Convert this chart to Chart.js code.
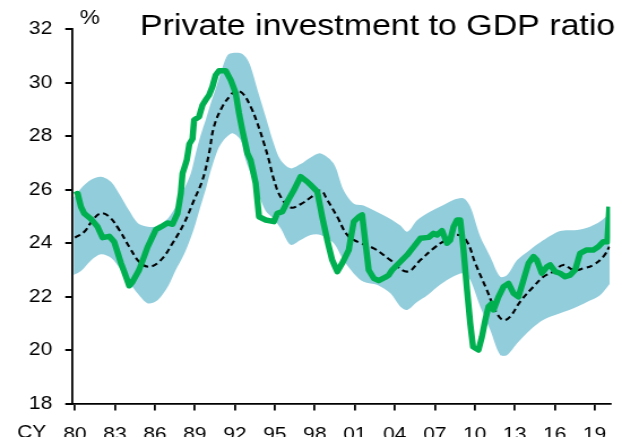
<!DOCTYPE html>
<html>
<head>
<meta charset="utf-8">
<script src="https://cdn.jsdelivr.net/npm/chart.js@4.4.1/dist/chart.umd.min.js"></script>
<style>
  html, body { margin: 0; padding: 0; background: #fff; overflow: hidden; }
  canvas { display: block; }
</style>
</head>
<body>
<!-- drawn 550 wide and shown 622 wide: the reference looks stretched sideways -->
<canvas id="investChart" width="550" height="455" style="width:622px;height:455px"></canvas>
<script>
// x axis ticks (calendar years)
const tickYears = [1980, 1983, 1986, 1989, 1992, 1995, 1998, 2001, 2004, 2007, 2010, 2013, 2016, 2019];
const tickLabels = ['80', '83', '86', '89', '92', '95', '98', '01', '04', '07', '10', '13', '16', '19'];

// actual ratio (green)
const actualYears = [1980.0, 1980.2, 1980.45, 1980.7, 1981.2, 1981.7, 1982.07, 1982.57, 1982.94, 1983.45, 1983.82, 1984.07, 1984.32, 1984.82, 1985.45, 1986.07, 1986.44, 1986.94, 1987.32, 1987.69, 1987.94, 1988.07, 1988.39, 1988.58, 1988.82, 1988.94, 1989.31, 1989.57, 1989.81, 1990.06, 1990.31, 1990.56, 1990.81, 1991.31, 1991.69, 1992.06, 1992.31, 1992.56, 1992.94, 1993.18, 1993.56, 1993.81, 1994.31, 1994.93, 1995.18, 1995.56, 1995.93, 1996.43, 1996.93, 1997.43, 1997.68, 1998.18, 1998.55, 1998.93, 1999.30, 1999.68, 2000.05, 2000.55, 2000.67, 2000.92, 2001.30, 2001.55, 2001.80, 2002.04, 2002.42, 2002.79, 2003.30, 2003.54, 2003.80, 2004.17, 2004.92, 2005.42, 2005.92, 2006.54, 2006.91, 2007.17, 2007.54, 2007.92, 2008.16, 2008.41, 2008.67, 2008.91, 2009.16, 2009.42, 2009.66, 2009.87, 2010.28, 2010.54, 2010.79, 2011.03, 2011.29, 2011.41, 2011.78, 2012.16, 2012.53, 2012.91, 2013.28, 2013.66, 2014.03, 2014.41, 2014.66, 2015.03, 2015.41, 2015.66, 2016.03, 2016.40, 2016.78, 2017.15, 2017.53, 2017.90, 2018.40, 2018.90, 2019.27, 2019.65, 2019.95, 2020.10];
const actual = [25.8, 25.85, 25.35, 25.1, 24.9, 24.6, 24.2, 24.25, 24.05, 23.25, 22.75, 22.4, 22.55, 23.0, 23.85, 24.5, 24.6, 24.75, 24.7, 25.1, 25.85, 26.6, 27.1, 27.7, 27.9, 28.6, 28.72, 29.16, 29.35, 29.53, 29.84, 30.28, 30.44, 30.44, 30.09, 29.6, 28.85, 28.22, 27.35, 27.1, 26.23, 24.98, 24.86, 24.8, 25.11, 25.17, 25.54, 25.98, 26.48, 26.29, 26.17, 25.92, 24.98, 24.11, 23.36, 22.93, 23.24, 23.74, 24.11, 24.8, 24.98, 25.05, 23.99, 22.99, 22.68, 22.59, 22.72, 22.8, 22.99, 23.18, 23.55, 23.86, 24.18, 24.21, 24.36, 24.3, 24.46, 23.99, 24.11, 24.61, 24.86, 24.86, 23.74, 22.24, 21.0, 20.12, 20.0, 20.5, 21.12, 21.62, 21.74, 21.5, 21.99, 22.37, 22.49, 22.12, 21.99, 22.62, 23.24, 23.49, 23.36, 22.87, 23.11, 23.18, 22.93, 22.87, 22.74, 22.8, 22.99, 23.61, 23.74, 23.74, 23.86, 24.05, 24.05, 25.36];

// trend (dashed)
const trendYears = [1980.0, 1980.7, 1981.33, 1981.95, 1982.57, 1983.32, 1984.07, 1984.82, 1985.57, 1986.44, 1987.32, 1988.19, 1988.94, 1989.57, 1990.06, 1990.43, 1991.06, 1991.69, 1992.06, 1992.56, 1993.18, 1993.69, 1994.18, 1994.55, 1994.93, 1995.43, 1996.18, 1996.93, 1997.68, 1998.43, 1998.93, 1999.68, 2000.43, 2001.18, 2002.42, 2003.67, 2004.92, 2005.92, 2006.91, 2007.92, 2008.79, 2009.42, 2010.04, 2010.91, 2011.66, 2012.16, 2012.66, 2013.41, 2014.41, 2015.15, 2015.90, 2016.65, 2017.40, 2018.15, 2018.90, 2019.65, 2020.10];
const trend = [24.2, 24.42, 24.86, 25.11, 24.98, 24.49, 23.86, 23.3, 23.11, 23.36, 23.99, 24.74, 25.61, 26.36, 27.35, 28.35, 29.1, 29.53, 29.69, 29.6, 29.1, 28.47, 27.73, 27.1, 26.36, 25.73, 25.33, 25.45, 25.7, 25.96, 25.61, 24.98, 24.3, 24.05, 23.8, 23.36, 22.93, 23.36, 23.8, 24.14, 24.3, 24.05, 23.24, 22.24, 21.37, 21.12, 21.25, 21.81, 22.37, 22.74, 22.93, 23.18, 22.99, 23.05, 23.18, 23.49, 23.86];

// shaded range (light blue)
const bandYears = [1979.9, 1980.45, 1981.2, 1981.95, 1982.7, 1983.45, 1984.04, 1984.72, 1985.47, 1986.22, 1986.97, 1987.57, 1988.16, 1988.69, 1989.06, 1989.44, 1989.81, 1990.19, 1990.71, 1991.09, 1991.46, 1991.84, 1992.43, 1992.81, 1993.18, 1993.71, 1994.31, 1994.91, 1995.43, 1996.18, 1996.93, 1997.68, 1998.43, 1999.4, 2000.15, 2000.9, 2001.65, 2002.7, 2003.67, 2004.42, 2004.94, 2005.69, 2006.44, 2007.42, 2008.39, 2009.14, 2009.66, 2010.41, 2011.16, 2011.91, 2012.43, 2013.18, 2014.16, 2015.13, 2016.4, 2017.68, 2018.65, 2019.4, 2020.15];
const bandHigh = [25.7, 26.04, 26.36, 26.48, 26.29, 25.73, 25.23, 24.74, 24.61, 24.64, 24.92, 25.36, 25.98, 26.6, 27.35, 28.05, 28.6, 29.22, 30.0, 30.6, 31.03, 31.1, 31.09, 30.95, 30.6, 29.7, 28.72, 27.73, 27.1, 26.79, 26.95, 27.2, 27.35, 26.98, 25.98, 25.48, 25.4, 25.15, 24.9, 24.65, 24.42, 24.86, 25.11, 25.36, 25.61, 25.67, 25.36, 24.24, 23.49, 22.74, 22.8, 23.36, 23.75, 24.1, 24.45, 24.49, 24.61, 24.8, 25.11];
const bandLow = [22.8, 22.95, 23.35, 23.58, 23.45, 23.0, 22.55, 22.1, 21.74, 21.87, 22.37, 23.0, 23.55, 24.2, 24.75, 25.4, 26.0, 26.7, 27.48, 27.8, 28.0, 28.1, 27.85, 27.1, 26.6, 25.9, 25.2, 24.9, 24.55, 23.93, 24.11, 24.3, 24.3, 24.0, 23.36, 22.87, 22.55, 22.43, 22.12, 21.62, 21.5, 21.8, 22.05, 22.45, 22.75, 22.87, 22.62, 21.62, 20.75, 19.81, 19.81, 20.25, 20.75, 21.12, 21.37, 21.62, 21.85, 22.05, 22.49];

const FONT = "'Liberation Sans', Arial, sans-serif";
const toPoints = (xs, ys) => xs.map((x, i) => ({ x: x, y: ys[i] }));

// title, % unit and CY prefix drawn as plain canvas text
const extraText = {
    id: 'extraText',
    afterDraw(chart) {
        const ctx = chart.ctx;
        ctx.save();
        ctx.fillStyle = '#000';
        ctx.textBaseline = 'alphabetic';
        ctx.textAlign = 'right';
        ctx.font = '30px ' + FONT;
        ctx.fillText('Private investment to GDP ratio', 544, 35);
        ctx.textAlign = 'left';
        ctx.font = '20px ' + FONT;
        ctx.fillText('%', 70.5, 24);
        ctx.textAlign = 'center';
        ctx.textBaseline = 'top';
        ctx.font = '18.5px ' + FONT;
        ctx.fillText('CY', 28, 424);
        ctx.restore();
    }
};

const ctx = document.getElementById('investChart').getContext('2d');
new Chart(ctx, {
    type: 'line',
    data: {
        datasets: [
            { label: 'Actual', data: toPoints(actualYears, actual), borderColor: '#00B050', borderWidth: 5.5, pointRadius: 0, tension: 0, fill: false, order: 0, borderJoinStyle: 'round' },
            { label: 'Trend', data: toPoints(trendYears, trend), borderColor: '#000', borderWidth: 2.1, borderDash: [5.5, 3.5], pointRadius: 0, tension: 0.4, fill: false, order: 1 },
            { label: 'High', data: toPoints(bandYears, bandHigh), borderWidth: 0, borderColor: 'rgba(0,0,0,0)', backgroundColor: '#92CDDC', pointRadius: 0, tension: 0.3, fill: '+1', order: 2 },
            { label: 'Low', data: toPoints(bandYears, bandLow), borderWidth: 0, borderColor: 'rgba(0,0,0,0)', pointRadius: 0, tension: 0.3, fill: false, order: 3 },
        ],
    },
    options: {
        responsive: false,
        devicePixelRatio: 1,
        animation: false,
        layout: { padding: { top: 29, right: 10.6, left: 0, bottom: 0 } },
        plugins: { legend: { display: false }, tooltip: { enabled: false } },
        scales: {
            x: {
                type: 'linear',
                min: 1979.78,
                max: 2020.15,
                afterBuildTicks: (scale) => { scale.ticks = tickYears.map(v => ({ value: v })); },
                afterFit: (scale) => { scale.height = 51.5; },
                ticks: {
                    callback: (v) => tickLabels[tickYears.indexOf(v)],
                    font: { family: FONT, size: 18.5 },
                    color: '#000',
                    maxRotation: 0,
                    autoSkip: false,
                    padding: 13,
                },
                grid: { drawOnChartArea: false, tickLength: 7, color: '#000', lineWidth: 1.8 },
                border: { color: '#000', width: 1.8 },
            },
            y: {
                min: 18,
                max: 32,
                afterFit: (scale) => { scale.width = 63.7; },
                ticks: { stepSize: 2, font: { family: FONT, size: 18.5 }, color: '#000', padding: 11.5 },
                grid: { drawOnChartArea: false, tickLength: 6, color: '#000', lineWidth: 2 },
                border: { color: '#000', width: 1.8 },
            },
        },
    },
    plugins: [extraText],
});
</script>
</body>
</html>
